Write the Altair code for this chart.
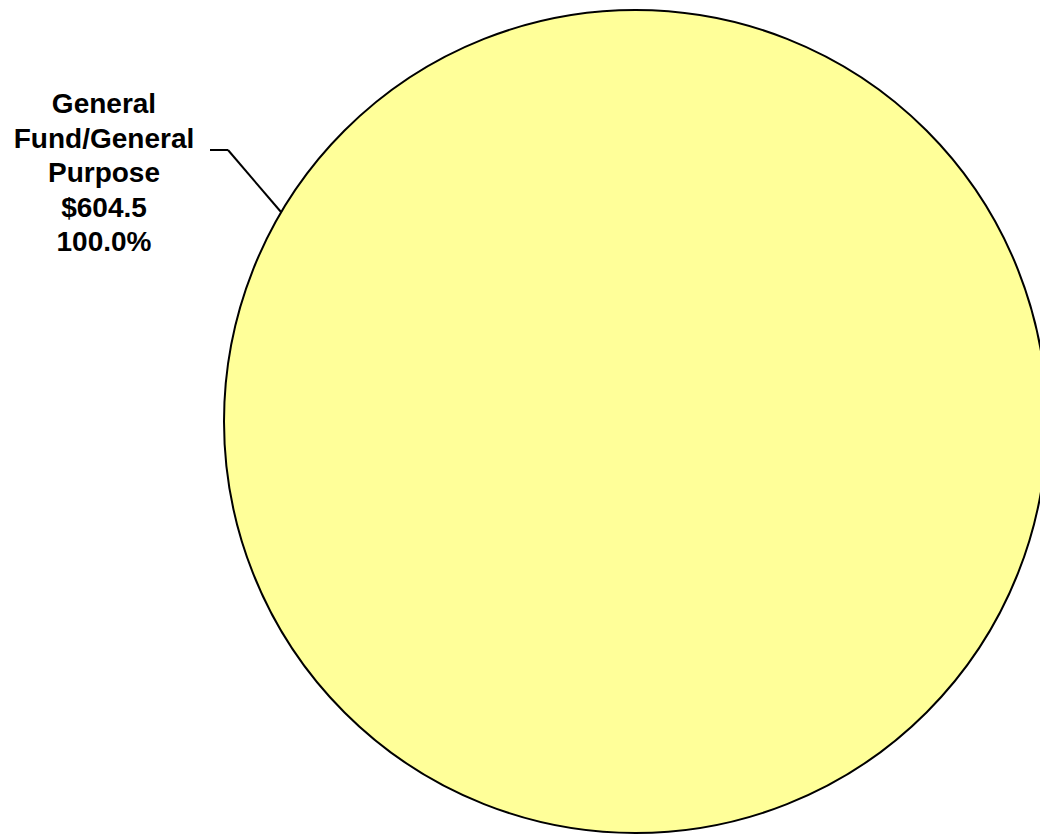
import altair as alt
import pandas as pd

categories = ["General Fund/General Purpose"]
values = [604.5]
label_lines = [["General", "Fund/General", "Purpose", "$604.5", "100.0%"]]

df = pd.DataFrame({
    "category": categories,
    "value": values,
})
df["label"] = ["\n".join(l) for l in label_lines]

W, H = 1040, 835
CX, CY, R = 635.5, 421.5, 411.5

base = alt.Chart(df)

pie = base.mark_arc(
    outerRadius=R, fill="#FFFF99", stroke="#000000", strokeWidth=2
).encode(
    theta=alt.Theta("value:Q", stack=True),
    x=alt.value(CX),
    y=alt.value(CY),
)

label = base.mark_text(
    font="Liberation Sans", fontWeight="bold", fontSize=28, lineHeight=34.5,
    align="center", baseline="alphabetic", lineBreak="\n", color="#000000",
).encode(
    text="label:N",
    x=alt.value(104),
    y=alt.value(113),
)

lead1 = base.mark_rule(color="#000000", strokeWidth=2).encode(
    x=alt.value(210), x2=alt.value(228), y=alt.value(150), y2=alt.value(150)
)
lead2 = base.mark_rule(color="#000000", strokeWidth=2).encode(
    x=alt.value(228), x2=alt.value(281), y=alt.value(150), y2=alt.value(212)
)

chart = alt.layer(pie, lead1, lead2, label).properties(
    width=W, height=H, padding=0, autosize="none",
    background="#FFFFFF",
).configure_view(stroke=None)

chart.save("out.html", embed_options={"renderer": "svg", "actions": False})
